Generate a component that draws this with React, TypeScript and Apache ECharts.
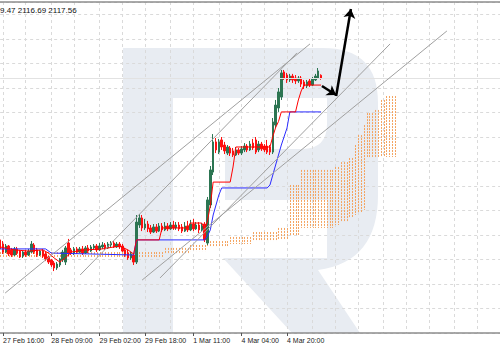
import React, { useEffect, useRef } from "react";
import * as echarts from "echarts";

// ---------- data ----------
const N_SLOTS = 177; // bar slots on the time axis (incl. future space for the cloud)
const TICK_IDX = [1, 18, 35, 51, 68, 85, 101];
const TICK_LABELS = ["27 Feb 16:00", "28 Feb 09:00", "29 Feb 02:00", "29 Feb 18:00", "1 Mar 11:00", "4 Mar 04:00", "4 Mar 20:00"];
const GRID_IDX = [1, 9, 18, 26, 35, 43, 51, 60, 68, 77, 85, 93, 101, 110, 118, 126, 135, 143, 151, 160, 168, 176];

const HEADER = "9.47 2116.69 2117.56";
const LAST_CLOSE = 2117.56;

// [open, close, low, high]
const CANDLES: number[][] = [
  [2035.0, 2030.4, 2029.3, 2036.5], [2032.9, 2028.8, 2027.8, 2034.4], [2028.8, 2031.9, 2028.3, 2032.9], [2031.9, 2027.8, 2026.8, 2032.4],
  [2029.9, 2027.3, 2026.3, 2030.9], [2027.3, 2030.4, 2026.8, 2031.4], [2030.4, 2028.3, 2027.3, 2031.4], [2029.3, 2026.3, 2025.8, 2029.9],
  [2026.8, 2028.8, 2025.8, 2029.3], [2028.8, 2027.3, 2026.3, 2029.9], [2027.3, 2029.3, 2026.8, 2030.4], [2028.8, 2032.9, 2028.3, 2034.4],
  [2032.4, 2028.8, 2027.8, 2033.4], [2029.9, 2027.3, 2026.3, 2030.9], [2027.3, 2029.3, 2026.8, 2029.9], [2029.3, 2026.8, 2025.8, 2030.4],
  [2027.8, 2025.3, 2024.2, 2028.8], [2026.3, 2023.7, 2022.7, 2026.8], [2024.8, 2022.2, 2021.2, 2025.3], [2023.2, 2020.7, 2019.1, 2024.2],
  [2020.7, 2022.7, 2019.7, 2023.7], [2022.2, 2025.3, 2021.2, 2025.8], [2024.8, 2028.8, 2023.7, 2029.9], [2023.7, 2030.9, 2022.2, 2031.9],
  [2033.4, 2027.8, 2026.8, 2035.5], [2029.9, 2028.3, 2027.3, 2030.9], [2028.3, 2030.4, 2027.3, 2031.4], [2030.4, 2028.8, 2027.8, 2031.4],
  [2028.8, 2030.4, 2028.3, 2031.4], [2030.4, 2028.3, 2027.3, 2031.9], [2028.3, 2030.9, 2027.8, 2031.9], [2030.9, 2029.3, 2028.3, 2032.4],
  [2029.3, 2031.4, 2028.8, 2032.4], [2030.9, 2031.9, 2029.9, 2032.9], [2031.9, 2029.9, 2028.8, 2032.9], [2029.9, 2031.9, 2029.3, 2033.4],
  [2031.4, 2032.4, 2030.4, 2033.9], [2032.4, 2030.9, 2029.9, 2033.4], [2030.9, 2032.9, 2030.4, 2033.9], [2032.4, 2033.4, 2031.4, 2034.4],
  [2033.4, 2031.4, 2030.9, 2034.4], [2031.4, 2032.9, 2030.9, 2033.9], [2032.9, 2031.4, 2030.4, 2033.9], [2031.9, 2029.3, 2028.8, 2032.9],
  [2029.9, 2027.3, 2026.3, 2030.9], [2028.3, 2025.8, 2024.8, 2029.9], [2025.8, 2027.8, 2024.8, 2028.8], [2027.3, 2023.7, 2022.2, 2028.3],
  [2023.7, 2044.1, 2022.7, 2047.7], [2042.6, 2046.2, 2041.1, 2048.2], [2046.2, 2041.1, 2039.5, 2047.7], [2041.1, 2043.1, 2040.1, 2045.7],
  [2043.1, 2040.6, 2039.0, 2044.7], [2041.1, 2039.0, 2038.0, 2042.6], [2039.0, 2041.6, 2038.5, 2043.1], [2041.6, 2039.5, 2038.5, 2043.1],
  [2039.5, 2042.1, 2039.0, 2043.6], [2042.1, 2040.1, 2039.0, 2043.6], [2040.1, 2042.1, 2039.5, 2044.1], [2042.1, 2040.6, 2039.5, 2043.6],
  [2040.6, 2042.6, 2040.1, 2044.1], [2042.6, 2041.1, 2040.1, 2044.7], [2041.1, 2042.6, 2040.1, 2044.1], [2042.6, 2040.6, 2039.5, 2044.1],
  [2041.6, 2039.5, 2038.5, 2043.1], [2039.5, 2042.1, 2039.0, 2044.1], [2042.1, 2040.1, 2039.0, 2044.7], [2040.1, 2043.1, 2039.5, 2045.2],
  [2043.1, 2040.6, 2039.5, 2045.7], [2040.6, 2042.6, 2040.1, 2044.1], [2042.6, 2040.1, 2038.5, 2044.1], [2040.1, 2042.1, 2039.5, 2043.6],
  [2043.1, 2035.0, 2033.9, 2044.1], [2033.4, 2055.4, 2032.4, 2056.9], [2052.8, 2070.7, 2051.3, 2072.7], [2069.6, 2085.0, 2068.1, 2089.0],
  [2085.0, 2080.9, 2079.3, 2087.0], [2079.8, 2085.0, 2078.8, 2086.5], [2086.0, 2082.4, 2080.9, 2087.5], [2083.4, 2080.4, 2078.8, 2085.0],
  [2079.3, 2082.4, 2078.3, 2083.4], [2081.9, 2079.3, 2077.8, 2082.9], [2080.4, 2078.3, 2077.3, 2081.9], [2078.3, 2080.9, 2077.8, 2082.4],
  [2080.9, 2079.3, 2078.3, 2081.9], [2079.3, 2081.4, 2078.3, 2082.9], [2080.9, 2082.9, 2079.8, 2084.4], [2082.9, 2080.9, 2079.8, 2083.9],
  [2080.9, 2083.9, 2080.4, 2085.5], [2084.4, 2081.9, 2080.9, 2086.5], [2086.0, 2079.8, 2078.8, 2087.5], [2080.9, 2083.9, 2079.8, 2085.5],
  [2083.9, 2081.4, 2080.4, 2085.0], [2082.9, 2080.9, 2079.8, 2083.9], [2082.9, 2079.8, 2078.8, 2086.0], [2082.4, 2079.8, 2078.3, 2083.4],
  [2079.8, 2095.2, 2078.8, 2097.2], [2093.6, 2103.8, 2092.1, 2106.4], [2102.3, 2110.5, 2100.3, 2112.5], [2107.9, 2120.2, 2106.4, 2121.7],
  [2120.7, 2117.6, 2116.6, 2121.7], [2119.1, 2116.6, 2115.1, 2120.2], [2116.6, 2118.6, 2115.6, 2119.7], [2118.6, 2116.6, 2115.1, 2119.7],
  [2117.6, 2116.1, 2114.5, 2119.1], [2116.1, 2117.6, 2115.1, 2118.6], [2117.6, 2114.5, 2113.0, 2118.6], [2115.6, 2113.5, 2112.0, 2116.6],
  [2113.5, 2115.6, 2112.5, 2116.6], [2116.1, 2114.0, 2113.0, 2117.1], [2114.0, 2117.1, 2113.5, 2118.1], [2116.6, 2118.6, 2116.1, 2119.7],
  [2117.6, 2121.2, 2117.1, 2122.7], [2119.0, 2117.56, 2116.69, 2119.47],
];

// Tenkan-sen (red) and Kijun-sen (blue): [bar index, price]
const TENKAN: number[][] = [
  [0, 2031.4], [5, 2029.9], [10, 2029.3], [15, 2029.9], [17, 2028.3], [19, 2025.8], [21, 2023.7], [23, 2025.8], [25, 2028.8],
  [30, 2029.9], [36, 2030.4], [42, 2031.9], [45, 2029.9], [47, 2027.8], [48, 2035.0], [56, 2035.0], [57, 2041.1], [66, 2041.1],
  [67, 2043.6], [71, 2043.6], [72, 2040.1], [73, 2044.7], [74, 2052.6], [75, 2064.5], [81, 2064.5], [82, 2072.2], [83, 2082.4],
  [95, 2082.4], [96, 2087.8], [97, 2092.3], [98, 2095.4], [99, 2100.3], [104, 2100.3], [105, 2106.4], [106, 2111.0], [107, 2114.0],
  [113, 2114.0],
];
const KIJUN: number[][] = [
  [0, 2030.4], [16, 2030.4], [18, 2028.3], [47, 2027.3], [48, 2035.0], [72, 2035.0], [73, 2037.0], [74, 2040.1], [75, 2047.7],
  [77, 2057.9], [78, 2061.5], [94, 2061.5], [95, 2063.0], [97, 2073.2], [99, 2083.4], [101, 2092.1], [102, 2100.3], [113, 2100.3],
];
// Kumo: [first bar, last bar, upper span, lower span]
const CLOUD_RUNS: number[][] = [
  [0, 57, 2028.8, 2026.3], [58, 66, 2030.9, 2027.8], [67, 72, 2032.4, 2029.3], [73, 80, 2034.4, 2031.4],
  [81, 88, 2036.5, 2032.9], [89, 97, 2039.0, 2034.4], [98, 101, 2041.1, 2035.0], [102, 105, 2063.0, 2037.5],
  [106, 117, 2070.7, 2041.1], [118, 119, 2072.2, 2042.6], [120, 122, 2074.7, 2044.1], [123, 124, 2076.8, 2046.2],
  [125, 125, 2083.4, 2047.7], [126, 127, 2088.5, 2049.2], [128, 128, 2093.6, 2050.3], [129, 131, 2099.7, 2077.3],
  [132, 133, 2101.3, 2077.3], [134, 135, 2106.4, 2077.3], [136, 139, 2108.4, 2077.3],
];
// trend lines: [x1, y1, x2, y2] in (bar index, price)
const TREND_LINES: number[][] = [
  [1.76, 2007.9, 109.1, 2135.0],
  [28.16, 2017.1, 104.5, 2130.4],
  [49.98, 2014.5, 157.3, 2141.6],
  [56.3, 2015.6, 137.3, 2135.0],
];
const ARROWS: number[][] = [
  [113.3, 2113.5, 118.3, 2108.9],
  [118.3, 2108.4, 123.5, 2152.8],
];

const WATERMARK_D =
  "M123,48 L323,48 Q378,48 378,103 L378,195 Q378,262 318,270 L360,333 L292,333 L223,258 L327,258 L327,200 " +
  "L225,200 L225,149 L302,149 Q327,149 327,124 L327,98 L173,98 L173,333 L123,333 Z";

let registered = false;

export default function App() {
  const ref = useRef<HTMLDivElement>(null);
  useEffect(() => {
    if (!ref.current) return;
    if (!registered) {
      echarts.graphic.registerShape("rwm", echarts.graphic.extendPath(WATERMARK_D, {}) as any);
      registered = true;
    }
    const chart = echarts.init(ref.current, null, { renderer: "svg" });
    const cats = Array.from({ length: N_SLOTS }, (_, i) => {
      const k = TICK_IDX.indexOf(i);
      return k >= 0 ? TICK_LABELS[k] : "b" + i;
    });
    const tickSet = new Set(TICK_IDX);
    const gridSet = new Set(GRID_IDX);
    const cloudData: number[][] = [];
    CLOUD_RUNS.forEach(([a, b, t, l]) => {
      for (let i = a; i <= b; i++) cloudData.push([i, t, l]);
    });
    const font = "Liberation Sans";
    const option: any = {
      animation: false,
      backgroundColor: "#ffffff",
      grid: { left: 0, right: 0, top: 2, bottom: 17, containLabel: false },
      xAxis: [
        {
          type: "category",
          data: cats,
          boundaryGap: false,
          axisLine: { show: true, lineStyle: { color: "#8c8c8c", width: 1.5 } },
          axisTick: { show: true, interval: (i: number) => tickSet.has(i), length: 3, lineStyle: { color: "#555" } },
          axisLabel: {
            show: true,
            interval: (i: number) => tickSet.has(i),
            align: "left",
            fontSize: 7,
            fontFamily: font,
            color: "#222",
            margin: 4,
          },
          splitLine: { show: true, interval: (i: number) => gridSet.has(i), lineStyle: { color: "#dadada", type: [3, 3], width: 1 } },
        },
        { type: "value", min: 0, max: N_SLOTS - 1, show: false },
      ],
      yAxis: {
        type: "value",
        min: 1987.5,
        max: 2156.38,
        interval: 12.5,
        axisLabel: { show: false },
        axisLine: { show: false },
        axisTick: { show: false },
        splitLine: { show: true, lineStyle: { color: "#dadada", type: [3, 3], width: 1 } },
      },
      graphic: [
        { type: "rwm", x: 0, y: 0, z: -10, silent: true, style: { fill: "#e8ecf2" } },
        { type: "line", z: 5, silent: true, shape: { x1: 0, y1: 2, x2: 500, y2: 2 }, style: { stroke: "#8c8c8c", lineWidth: 1.5 } },
        { type: "text", x: 0, y: 10, z: 5, silent: true, style: { text: HEADER, fontSize: 8, fontFamily: font, fill: "#111", verticalAlign: "middle" } },
      ],
      series: [
        {
          type: "custom",
          xAxisIndex: 1,
          yAxisIndex: 0,
          silent: true,
          z: 1,
          data: cloudData,
          encode: { x: 0, y: [1, 2] },
          renderItem: (_p: any, api: any) => {
            const a = api.coord([api.value(0), api.value(1)]);
            const b = api.coord([api.value(0), api.value(2)]);
            const x = Math.round(a[0]) + 0.5;
            return {
              type: "line",
              shape: { x1: x, y1: a[1], x2: x, y2: b[1] },
              style: { stroke: "#f4a460", lineWidth: 1, lineDash: [2, 1] },
            };
          },
        },
        {
          type: "candlestick",
          xAxisIndex: 0,
          yAxisIndex: 0,
          data: CANDLES,
          barWidth: 2,
          z: 3,
          itemStyle: { color: "#2c7552", color0: "#ff1010", borderColor: "#2c7552", borderColor0: "#ff1010", borderWidth: 1 },
          markLine: {
            silent: true,
            symbol: "none",
            label: { show: false },
            lineStyle: { color: "#e2e2e2", type: "solid", width: 1 },
            data: [{ yAxis: LAST_CLOSE }],
          },
        },
        {
          type: "line",
          xAxisIndex: 1,
          yAxisIndex: 0,
          data: KIJUN,
          showSymbol: false,
          silent: true,
          z: 4,
          lineStyle: { color: "#2b2bff", width: 1 },
        },
        {
          type: "line",
          xAxisIndex: 1,
          yAxisIndex: 0,
          data: TENKAN,
          showSymbol: false,
          silent: true,
          z: 4,
          lineStyle: { color: "#ff0000", width: 1 },
        },
        {
          type: "lines",
          coordinateSystem: "cartesian2d",
          xAxisIndex: 1,
          yAxisIndex: 0,
          silent: true,
          z: 5,
          symbol: "none",
          lineStyle: { color: "#a0a0a0", width: 1, opacity: 1 },
          data: TREND_LINES.map((l) => ({ coords: [[l[0], l[1]], [l[2], l[3]]] })),
        },
        {
          type: "lines",
          coordinateSystem: "cartesian2d",
          xAxisIndex: 1,
          yAxisIndex: 0,
          silent: true,
          z: 6,
          symbol: ["none", "arrow"],
          symbolSize: 9,
          lineStyle: { color: "#000000", width: 2.5, opacity: 1 },
          data: ARROWS.map((l) => ({ coords: [[l[0], l[1]], [l[2], l[3]]] })),
        },
      ],
    };
    chart.setOption(option);
    return () => chart.dispose();
  }, []);
  return <div ref={ref} style={{ position: "absolute", left: 0, top: 0, width: 500, height: 350 }} />;
}
